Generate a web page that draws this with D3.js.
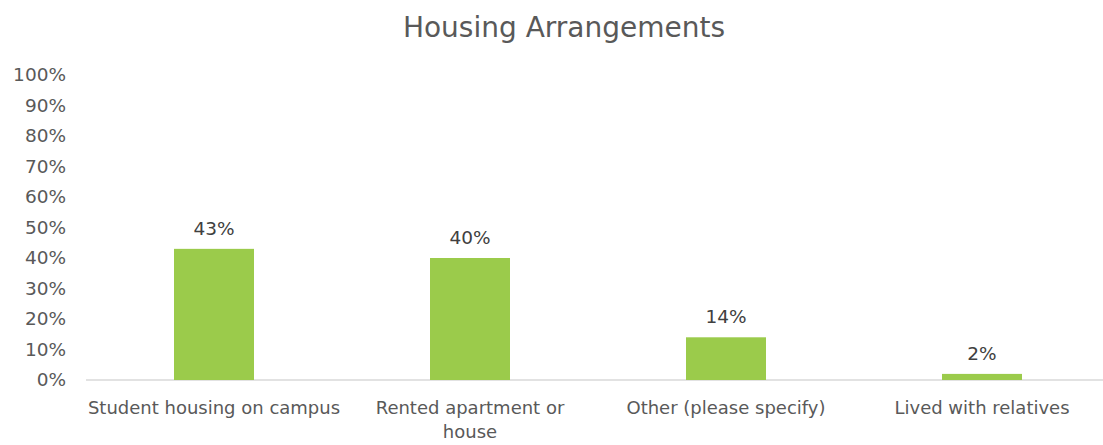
<!DOCTYPE html>
<html>
<head>
<meta charset="utf-8">
<script src="https://cdn.jsdelivr.net/npm/d3@7"></script>
<style>
  body { margin: 0; background: #fff; }
  text { font-family: "DejaVu Sans", sans-serif; }
</style>
</head>
<body>
<svg></svg>
<script>
var categories = ["Student housing on campus", "Rented apartment or house", "Other (please specify)", "Lived with relatives"];
var values = [0.43, 0.40, 0.14, 0.02];
var valueLabels = ["43%", "40%", "14%", "2%"];
var tickValues = [0, 0.1, 0.2, 0.3, 0.4, 0.5, 0.6, 0.7, 0.8, 0.9, 1.0];

var width = 1103;
var height = 445;
var margin = {left: 86, right: -7, top: 75, bottom: 65};

var svg = d3.select("svg")
  .attr("width", width)
  .attr("height", height);

var x = d3.scaleBand()
  .domain(categories)
  .range([margin.left, width - margin.right])
  .paddingInner(0.6875)
  .paddingOuter(0.34375);

var y = d3.scaleLinear()
  .domain([0, 1])
  .range([height - margin.bottom, margin.top]);

// title
svg.append("text")
  .attr("x", 564)
  .attr("y", 37)
  .attr("text-anchor", "middle")
  .style("font-size", "28px")
  .style("fill", "#595959")
  .text("Housing Arrangements");

// y axis labels (no line, no ticks)
var yAxis = d3.axisLeft(y)
  .tickValues(tickValues)
  .tickFormat(d3.format(".0%"))
  .tickSize(0)
  .tickPadding(0);

var yg = svg.append("g")
  .attr("transform", "translate(" + 66 + ",0)")
  .call(yAxis);
yg.select(".domain").remove();
yg.selectAll("text")
  .style("font-size", "18.5px")
  .style("fill", "#595959")
  .style("font-family", "DejaVu Sans, sans-serif");

// baseline
svg.append("line")
  .attr("x1", margin.left)
  .attr("x2", width)
  .attr("y1", y(0))
  .attr("y2", y(0))
  .style("stroke", "#d9d9d9")
  .style("stroke-width", 1.5);

// bars
svg.selectAll(".bar")
  .data(values)
  .enter().append("rect")
  .attr("class", "bar")
  .attr("x", function(d, i) { return x(categories[i]); })
  .attr("width", x.bandwidth())
  .attr("y", function(d) { return y(d); })
  .attr("height", function(d) { return y(0) - y(d); })
  .style("fill", "#9bcb4b");

// value labels
svg.selectAll(".vlabel")
  .data(values)
  .enter().append("text")
  .attr("class", "vlabel")
  .attr("x", function(d, i) { return x(categories[i]) + x.bandwidth() / 2; })
  .attr("y", function(d) { return y(d) - 14; })
  .attr("text-anchor", "middle")
  .style("font-size", "18.5px")
  .style("fill", "#404040")
  .text(function(d, i) { return valueLabels[i]; });

// category labels, wrapped
var catWrap = {"Rented apartment or house": ["Rented apartment or", "house"]};
svg.selectAll(".clabel")
  .data(categories)
  .enter().append("text")
  .attr("class", "clabel")
  .attr("x", function(d) { return x(d) + x.bandwidth() / 2; })
  .attr("y", y(0) + 34)
  .attr("text-anchor", "middle")
  .style("font-size", "18px")
  .style("fill", "#595959")
  .each(function(d) {
    var lines = catWrap[d] || [d];
    var t = d3.select(this);
    lines.forEach(function(l, k) {
      t.append("tspan")
        .attr("x", x(d) + x.bandwidth() / 2)
        .attr("dy", k == 0 ? 0 : 24)
        .text(l);
    });
  });
</script>
</body>
</html>
